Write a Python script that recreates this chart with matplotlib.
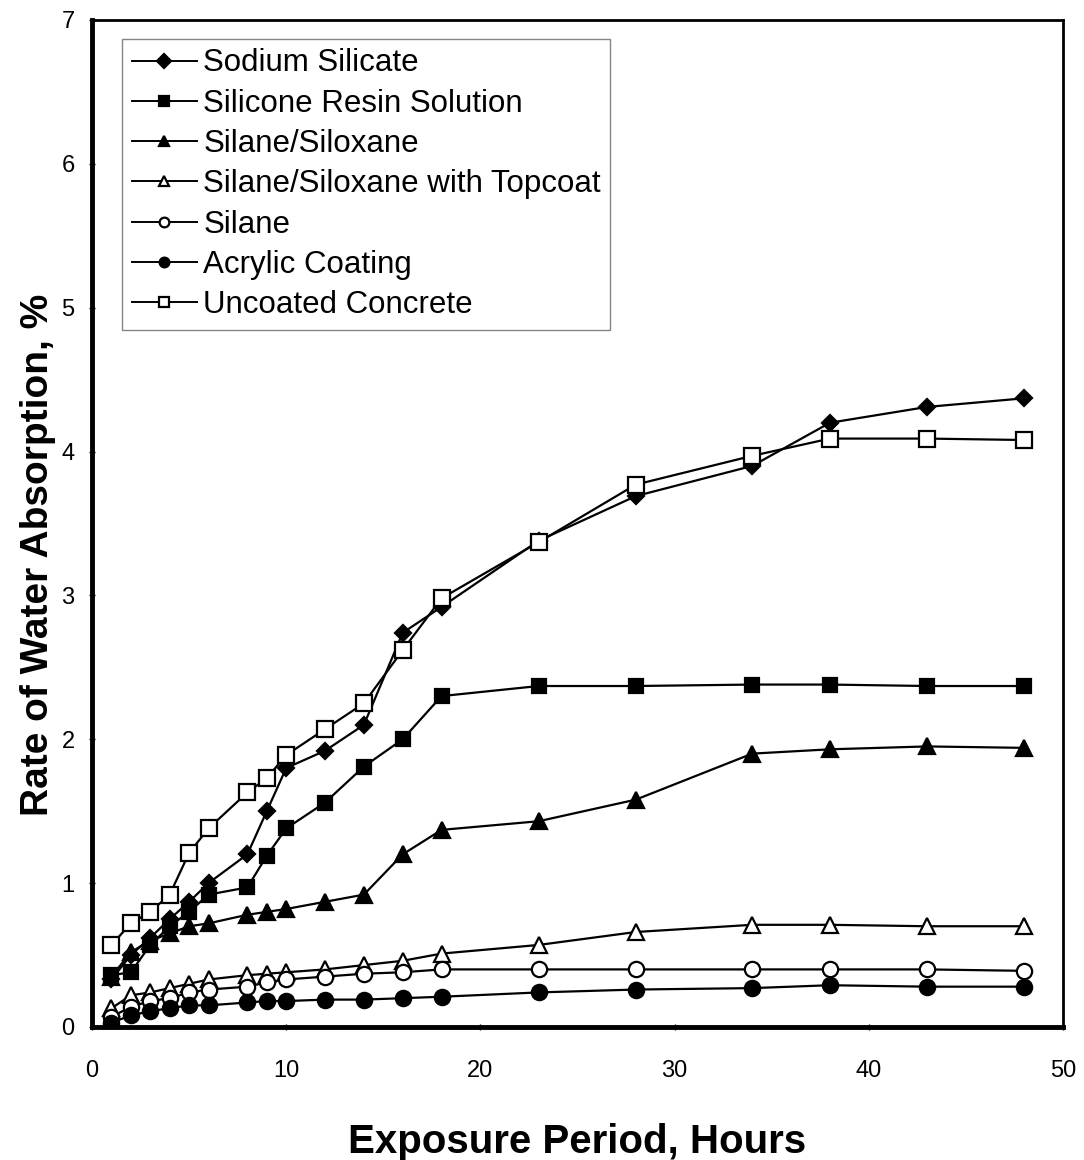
import matplotlib
matplotlib.use("Agg")
import matplotlib.pyplot as plt

plt.rcParams['font.family'] = ['Liberation Sans', 'DejaVu Sans']

hours = [1, 2, 3, 4, 5, 6, 8, 9, 10, 12, 14, 16, 18, 23, 28, 34, 38, 43, 48]

sodium_silicate = [0.33, 0.50, 0.62, 0.75, 0.87, 1.00, 1.20, 1.50, 1.80, 1.92, 2.10, 2.74, 2.92, 3.38, 3.69, 3.90, 4.20, 4.31, 4.37]
silicone_resin = [0.36, 0.38, 0.57, 0.70, 0.80, 0.92, 0.97, 1.19, 1.38, 1.56, 1.81, 2.00, 2.30, 2.37, 2.37, 2.38, 2.38, 2.37, 2.37]
silane_siloxane = [0.35, 0.52, 0.60, 0.65, 0.70, 0.72, 0.78, 0.80, 0.82, 0.87, 0.92, 1.20, 1.37, 1.43, 1.58, 1.90, 1.93, 1.95, 1.94]
siloxane_topcoat = [0.13, 0.22, 0.24, 0.27, 0.30, 0.33, 0.36, 0.37, 0.38, 0.40, 0.43, 0.46, 0.51, 0.57, 0.66, 0.71, 0.71, 0.70, 0.70]
silane = [0.07, 0.14, 0.18, 0.20, 0.24, 0.26, 0.28, 0.31, 0.33, 0.35, 0.37, 0.38, 0.40, 0.40, 0.40, 0.40, 0.40, 0.40, 0.39]
acrylic = [0.03, 0.08, 0.11, 0.13, 0.15, 0.15, 0.17, 0.18, 0.18, 0.19, 0.19, 0.20, 0.21, 0.24, 0.26, 0.27, 0.29, 0.28, 0.28]
uncoated = [0.57, 0.72, 0.80, 0.92, 1.21, 1.38, 1.63, 1.73, 1.89, 2.07, 2.25, 2.62, 2.98, 3.37, 3.77, 3.97, 4.09, 4.09, 4.08]

labels = ["Sodium Silicate", "Silicone Resin Solution", "Silane/Siloxane",
          "Silane/Siloxane with Topcoat", "Silane", "Acrylic Coating", "Uncoated Concrete"]
series = [sodium_silicate, silicone_resin, silane_siloxane, siloxane_topcoat, silane, acrylic, uncoated]
markers = ['D', 's', '^', '^', 'o', 'o', 's']
filled = [True, True, True, False, False, True, False]
sizes = [8, 10, 11, 11, 11, 11, 11]

x_ticks = [0, 10, 20, 30, 40, 50]
y_ticks = [0, 1, 2, 3, 4, 5, 6, 7]

fig = plt.figure(figsize=(10.84, 11.6), dpi=100)
ax = fig.add_axes([0.0849, 0.1147, 0.8957, 0.8681])

for ys, lab, m, f, ms in zip(series, labels, markers, filled, sizes):
    ax.plot(hours, ys, color='black', linewidth=1.6, marker=m, markersize=ms,
            markerfacecolor='black' if f else 'white', markeredgecolor='black',
            markeredgewidth=1.6, label=lab)

ax.set_xlim(0, 50)
ax.set_ylim(0, 7)
ax.set_xticks(x_ticks)
ax.set_yticks(y_ticks)
ax.tick_params(axis='both', direction='inout', length=5, width=1, labelsize=17)
ax.tick_params(axis='x', pad=21)
ax.tick_params(axis='y', pad=10)

for side in ['left', 'bottom']:
    ax.spines[side].set_linewidth(3.5)
for side in ['top', 'right']:
    ax.spines[side].set_linewidth(2.0)

ax.set_xlabel("Exposure Period, Hours", fontsize=29, fontweight='bold', labelpad=30)
ax.set_ylabel("Rate of Water Absorption, %", fontsize=28, fontweight='bold')
ax.yaxis.set_label_coords(-0.037, 0.469)

leg = ax.legend(loc='upper left', bbox_to_anchor=(0.031, 0.981), fontsize=22.5,
                frameon=True, fancybox=False, handlelength=2.1, handletextpad=0.2,
                labelspacing=0.33, borderpad=0.3, borderaxespad=0)
leg.get_frame().set_edgecolor('#666666')
leg.get_frame().set_linewidth(1.0)
for h in leg.legend_handles:
    h.set_markersize(7)
    h.set_linewidth(1.4)

fig.savefig("out.png", dpi=100)
